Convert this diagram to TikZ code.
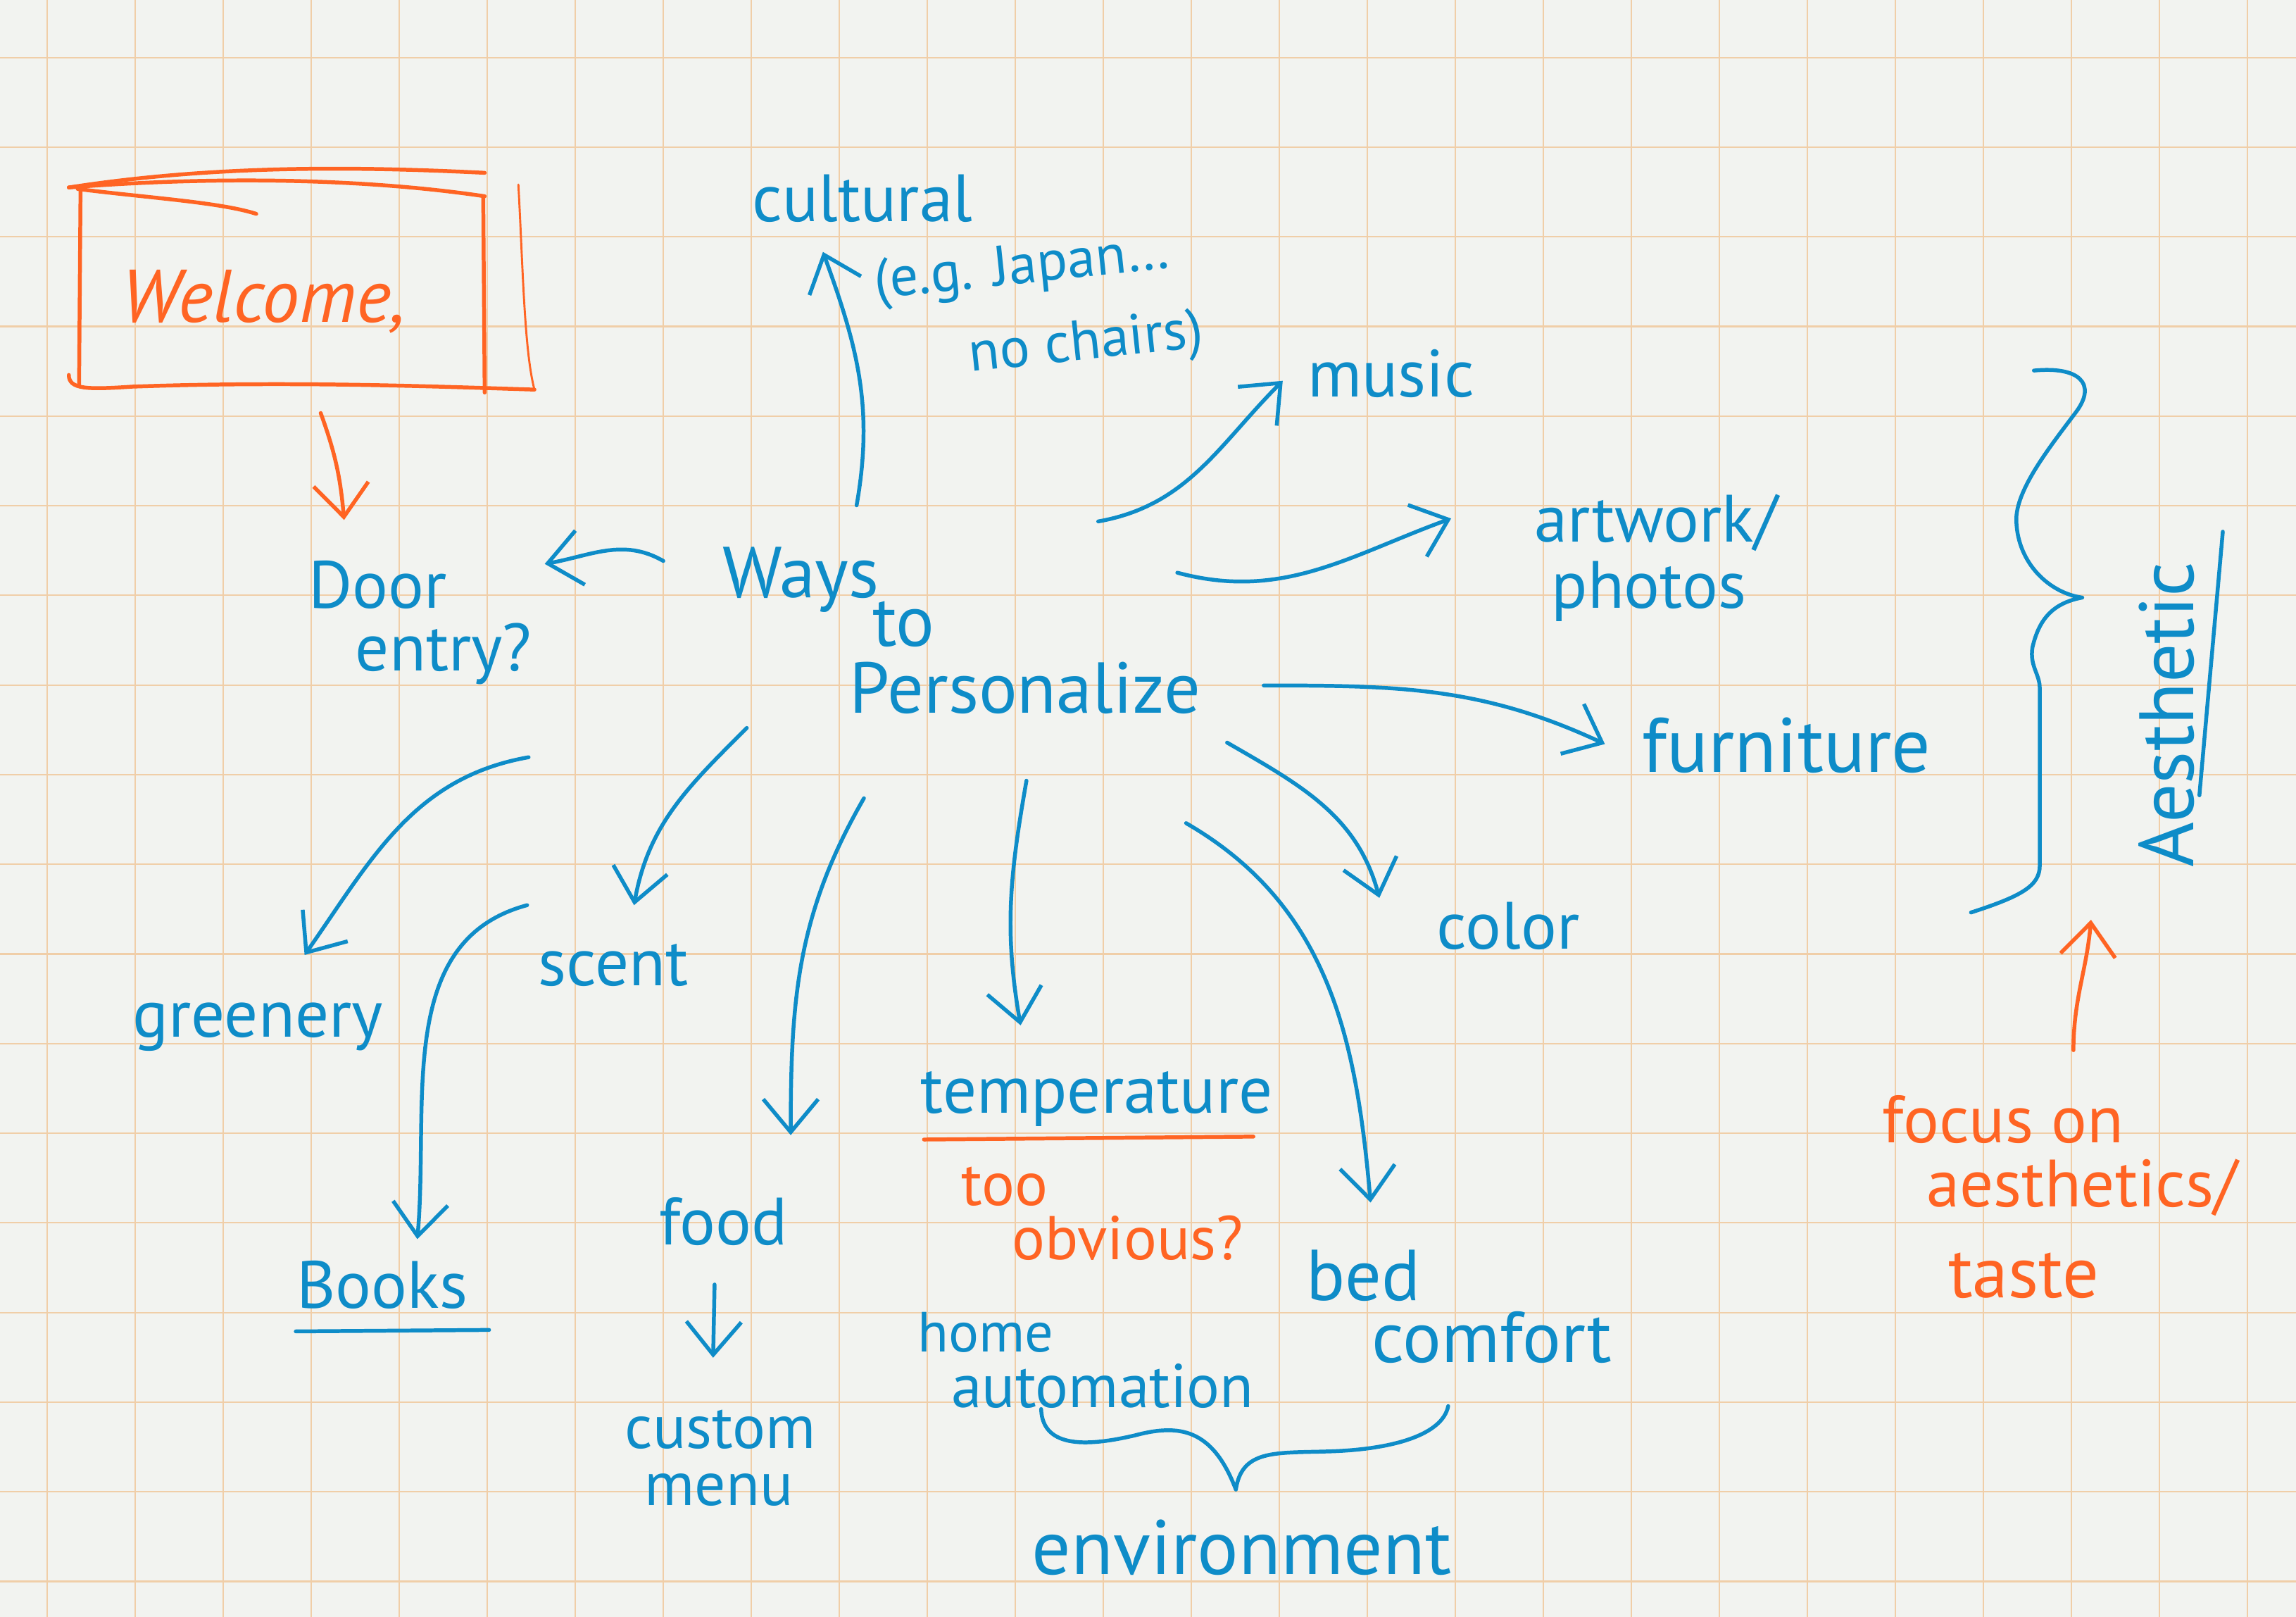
\documentclass[tikz,border=0pt]{standalone}
\usepackage{fontspec}
\setmainfont{PT Sans}
\usetikzlibrary{arrows.meta}

\definecolor{inkblue}{RGB}{14,140,200}
\definecolor{inkorange}{RGB}{255,100,35}
\definecolor{paper}{RGB}{242,243,240}
\definecolor{gridline}{RGB}{240,206,168}

\newcommand{\fsz}[1]{\fontsize{#1}{#1}\selectfont}

\tikzset{
	btext/.style={text=inkblue, anchor=base, inner sep=0.5pt, font=\fsz{26}},
	otext/.style={btext, text=inkorange},
	bpen/.style={draw=inkblue, line width=1.5pt, line cap=round, line join=round},
	orpen/.style={bpen, draw=inkorange},
	barr/.style={bpen, -{Straight Barb[length=4.5mm,width=7.5mm]}},
	oarr/.style={orpen, -{Straight Barb[length=4.5mm,width=7.5mm]}}
}

\begin{document}
\begin{tikzpicture}[x=0.02cm, y=-0.02cm]
	% paper
	\fill[paper] (0,0) rectangle (1568,1104);
	\useasboundingbox (0,0) rectangle (1568,1104);
	\foreach \i in {0,...,25}
		\draw[gridline, line width=0.6pt] ({32.4+60.1*\i},0) -- ({32.4+60.1*\i},1104);
	\foreach \i in {0,...,17}
		\draw[gridline, line width=0.6pt] (0,{39.3+61.2*\i}) -- (1568,{39.3+61.2*\i});

	% welcome frame
	\node[otext, font=\itshape\fsz{29}] (welcome) at (180,220) {Welcome,};
	\draw[orpen] (47,128) .. controls (150,112) and (250,114) .. (331,118);
	\draw[orpen] (47,128) .. controls (150,120) and (250,122) .. (331,134);
	\draw[orpen] (53,129) .. controls (100,135) and (150,138) .. (175,146);
	\draw[orpen] (55,130) -- (54,263);
	\draw[orpen] (47,256) .. controls (47,266) and (60,266) .. (90,264) .. controls (200,260) and (300,264) .. (365,266);
	\draw[orpen] (330,134) -- (331,268);
	\draw[orpen, line width=0.8pt] (354,126) .. controls (357,180) and (358,240) .. (365,266);

	% centre
	\node[btext, font=\fsz{28}] (ways) at (547,408) {Ways};
	\node[btext, font=\fsz{28}] (wto) at (617,441) {to};
	\node[btext, font=\fsz{28}] (pers) at (700,487) {Personalize};

	\node[btext] (door) at (258,415) {Door};
	\node[btext] (entry) at (303,458) {entry?};
	\node[btext] (cultural) at (589,151) {cultural};
	\node[btext, font=\fontsize{22}{32}\selectfont, align=left, rotate=6, anchor=base west] (japan) at (603,260)
		{(e.g. Japan\dots\\\hspace*{11.8mm}no chairs)};
	\node[btext] (music) at (950,271) {music};
	\node[btext] (artwork) at (1131,370) {artwork/};
	\node[btext] (photos) at (1126,415) {photos};
	\node[btext, font=\fsz{30}] (furniture) at (1220,527) {furniture};
	\node[btext] (color) at (1030,648) {color};
	\node[btext, font=\fsz{30}, rotate=90] (aesth) at (1498,488) {Aesthetic};
	\node[otext] (focus) at (1368,780) {focus on};
	\node[otext] (aesthetics) at (1422,824) {aesthetics/};
	\node[otext, font=\fsz{28}] (taste) at (1382,886) {taste};
	\node[btext] (greenery) at (176,708) {greenery};
	\node[btext] (scent) at (419,673) {scent};
	\node[btext] (books) at (261,893) {Books};
	\node[btext] (food) at (494,850) {food};
	\node[btext, font=\fsz{24}] (custom) at (492,989) {custom};
	\node[btext, font=\fsz{24}] (menu) at (491,1028) {menu};
	\node[btext] (temp) at (749,760) {temperature};
	\node[otext, font=\fsz{24}] (too) at (686,823) {too};
	\node[otext, font=\fsz{24}] (obvious) at (770,860) {obvious?};
	\node[btext, font=\fsz{22}] (home) at (673,923) {home};
	\node[btext, font=\fsz{24}] (autom) at (753,961) {automation};
	\node[btext, font=\fsz{28}] (bed) at (931,888) {bed};
	\node[btext, font=\fsz{28}] (comfort) at (1019,930) {comfort};
	\node[btext, font=\fsz{30}] (environ) at (848,1075) {environment};

	% underlines
	\draw[bpen] ([shift={(-59,16)}]books.base) -- ([shift={(73,15)}]books.base);
	\draw[orpen] ([shift={(-118,18)}]temp.base) -- ([shift={(107,16)}]temp.base);
	\draw[bpen] ([shift={(20,-125)}]aesth.base) -- ([shift={(4,55)}]aesth.base);

	% arrow tails
	\coordinate (tdoor) at (453,383);
	\coordinate (tcult) at (585,345);
	\coordinate (tmusic) at (750,356);
	\coordinate (tart) at (804,391);
	\coordinate (tfurn) at (863,468);
	\coordinate (tcolor) at (838,507);
	\coordinate (tbed) at (810,562);
	\coordinate (ttemp) at (701,533);
	\coordinate (tfood) at (590,545);
	\coordinate (tscent) at (510,497);
	\coordinate (tgreen) at (361,517);
	\coordinate (tbooks) at (360,618);
	\coordinate (bracebot) at (1428,628);

	\path ([shift={(39,62)}]welcome.base) edge[oarr, out=-70, in=95] ([shift={(-23,-60)}]door.base);
	\path (tdoor) edge[barr, out=150, in=10] ([shift={(114,-30)}]door.base);
	\path (tcult) edge[barr, out=80, in=-70] ([shift={(-27,21)}]cultural.base);
	\path (tmusic) edge[barr, out=10, in=-135] ([shift={(-74,-11)}]music.base);
	\path (tart) edge[barr, out=-15, in=-160] ([shift={(-140,-16)}]artwork.base);
	\path (tfurn) edge[barr, out=0, in=155] ([shift={(-124,-19)}]furniture.base);
	\path (tcolor) edge[barr, out=-30, in=105] ([shift={(-88,-35)}]color.base);
	\path (tbed) edge[barr, out=-30, in=95] ([shift={(5,-67)}]bed.base);
	\path (ttemp) edge[barr, out=-100, in=100] ([shift={(-52,-60)}]temp.base);
	\path (tfood) edge[barr, out=-120, in=90] ([shift={(46,-75)}]food.base);
	\path ([shift={(-6,27)}]food.base) edge[barr] ([shift={(-5,-62)}]custom.base);
	\path (tscent) edge[barr, out=-135, in=80] ([shift={(14,-55)}]scent.base);
	\path (tgreen) edge[barr, out=190, in=55] ([shift={(32,-56)}]greenery.base);
	\path (tbooks) edge[barr, out=195, in=85] ([shift={(24,-47)}]books.base);
	\path ([shift={(48,-63)}]focus.base) edge[oarr, out=90, in=-95] (bracebot);

	% braces
	\draw[bpen] (1389,253) .. controls (1420,250) and (1432,262) .. (1418,281)
		.. controls (1400,305) and (1376,335) .. (1377,356)
		.. controls (1378,385) and (1400,405) .. (1422,408)
		.. controls (1400,412) and (1392,425) .. (1388,442)
		.. controls (1386,455) and (1393,460) .. (1393,470)
		-- (1393,591)
		.. controls (1393,605) and (1380,612) .. (1346,623);
	\draw[bpen] (711,962) .. controls (712,990) and (745,987) .. (775,980)
		.. controls (805,972) and (828,975) .. (844,1017)
		.. controls (848,990) and (870,992) .. (905,991)
		.. controls (950,990) and (985,980) .. (989,960);
\end{tikzpicture}
\end{document}
